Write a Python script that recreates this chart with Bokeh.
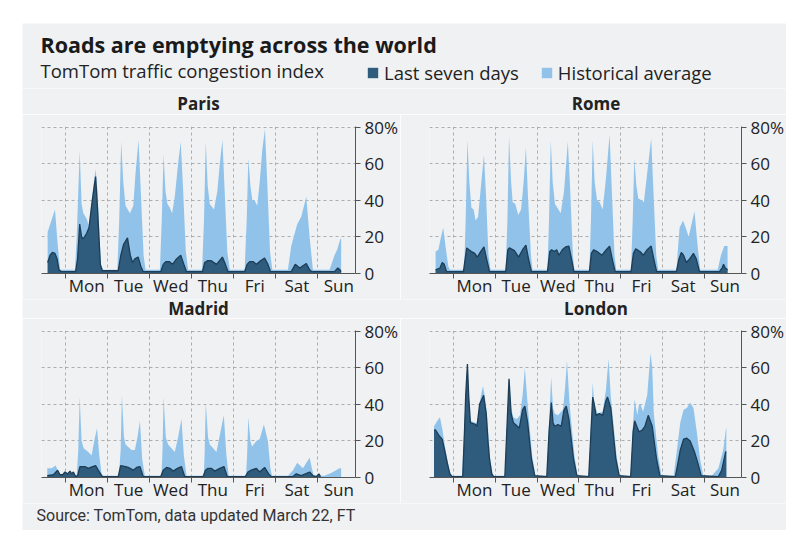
from bokeh.plotting import figure
from bokeh.layouts import column, row
from bokeh.models import FixedTicker, Range1d, Label, Legend, LegendItem
from bokeh.embed import file_html
from bokeh.resources import INLINE

BG = "#eff1f3"
DARK = "#2f5b7c"
DARK_LINE = "#1d3d56"
LIGHT = "#91c3ea"
GRID = "#adadad"
AXIS = "#555555"
TXT = "#222222"
FONT = "Open Sans"

X_START, X_END = -13.8, 165.5
Y_TOP = 80.4

# ---- axis definitions (hours from Monday 00:00) ----
day_bounds = [0, 24, 48, 72, 96, 120, 144]
day_centers = [12, 36, 60, 84, 108, 132, 156]
day_labels = ["Mon", "Tue", "Wed", "Thu", "Fri", "Sat", "Sun"]
y_ticks = [0, 20, 40, 60, 80]
y_labels = ["0", "20", "40", "60", "80%"]
grid_y = [20, 40, 60, 80]

# ---- Paris ----
paris_hist_h = [-10.3, -6.1, -4.75, -3.2, 5.3, 6.3, 8.0, 9.1, 10.1, 12.0, 13.3, 15.8, 17.1, 18.2, 20.1, 21.5,
                29.5, 30.6, 31.7, 32.9, 34.2, 36.7, 38.6, 39.9, 41.6, 42.9, 44.5, 45.6,
                53.8, 54.9, 55.9, 57.0, 58.1, 59.5, 60.8, 62.3, 64.2, 65.7, 67.1, 68.6, 69.9,
                77.9, 79.0, 80.0, 81.1, 82.3, 84.7, 86.6, 88.0, 89.5, 90.8, 92.3, 93.7,
                102.2, 103.4, 104.3, 105.5, 106.6, 107.9, 109.4, 110.8, 112.3, 113.8, 115.1, 116.7, 118.0,
                126.9, 128.8, 132.2, 134.5, 137.4, 139.3, 141.2,
                150.7, 153.5, 155.0, 156.9, 157.3]
paris_hist_v = [22.7, 35, 18, 2, 2, 20, 67, 38, 33, 30, 26, 48, 57, 45, 5, 2,
                2, 30, 72, 50, 37, 33, 37, 55, 73, 45, 10, 2,
                2, 30, 65, 45, 38, 36, 33, 42, 60, 72, 45, 12, 2,
                2, 30, 72, 48, 38, 35, 45, 60, 73, 45, 12, 2,
                2, 30, 63, 48, 40, 40, 37, 50, 68, 79, 50, 12, 2,
                2, 15, 27, 31, 42, 20, 2,
                2, 10, 13, 19, 19]
paris_last_h = [-10.3, -8.9, -7.6, -6.1, -4.9, -3.8, -2.3, 5.7, 6.8, 8.0, 9.1, 10.1, 12.0, 13.3, 15.2, 17.1, 18.2, 19.8, 20.9,
                30.0, 31.5, 33.1, 35.3, 36.9, 38.2, 39.5, 41.4, 42.9, 44.3,
                54.3, 55.7, 57.2, 59.1, 61.0, 63.3, 65.7, 67.5, 69.0,
                78.1, 79.4, 80.9, 83.2, 86.1, 89.5, 91.2, 92.7,
                102.2, 103.6, 105.1, 107.0, 108.9, 111.3, 113.6, 115.5, 117.0,
                128.8, 131.1, 133.6, 137.4, 139.3, 140.6,
                153.5, 155.4, 156.6, 157.3]
paris_last_v = [6, 10, 11.5, 11, 8, 2, 1, 1, 8, 27, 20, 19, 22, 25, 40, 53, 35, 5, 1.5,
                1.5, 10, 16, 19.5, 10, 6, 8, 9, 4, 1,
                1, 5, 6.5, 6.5, 5, 8, 10, 5, 1,
                1, 6, 7, 7, 5, 9, 5, 1,
                1, 5, 6.5, 6.5, 5, 7, 8.5, 5, 1,
                1, 5, 3, 5.5, 2, 1,
                1, 3, 2, 1]

# ---- Rome ----
rome_hist_h = [-10.3, -8.7, -7.2, -5.9, -4.6, -3.0, -2.1, 6.1, 7.0, 8.0, 9.1, 10.3, 11.6, 12.7, 14.1, 16.0, 17.5, 18.8, 20.1, 21.3,
               30.0, 31.0, 31.9, 33.1, 34.0, 35.5, 37.2, 38.8, 40.3, 41.6, 42.9, 44.5, 45.4,
               54.0, 54.9, 55.9, 57.0, 58.3, 59.7, 61.6, 63.5, 65.7, 67.1, 68.6, 69.5,
               78.1, 79.0, 80.0, 81.1, 82.5, 84.0, 85.7, 87.6, 89.7, 91.0, 92.5, 93.5,
               102.0, 103.0, 103.9, 105.1, 106.2, 108.1, 109.4, 111.3, 113.6, 114.9, 116.5, 117.6,
               128.1, 129.9, 131.9, 133.8, 135.1, 138.5, 139.8, 141.7,
               151.8, 153.7, 155.6, 157.5]
rome_hist_v = [12, 13, 20, 25, 15, 4, 2, 2, 30, 73, 50, 36, 35, 29, 31, 50, 65, 40, 10, 2,
               2, 30, 75, 50, 39, 38, 32, 35, 50, 69, 40, 10, 2,
               2, 30, 73, 50, 38, 36, 33, 45, 72, 45, 10, 2,
               2, 30, 73, 50, 40, 39, 35, 52, 76, 45, 10, 2,
               2, 30, 63, 48, 41, 40, 39, 55, 74, 45, 10, 2,
               2, 25, 29, 24, 20, 34, 20, 2,
               2, 10, 15, 15]
rome_last_h = [-10.3, -7.8, -6.5, -5.3, -4.0, 5.7, 6.7, 7.6, 8.9, 10.3, 12.2, 13.7, 15.6, 17.5, 19.0, 20.7,
               30.0, 31.2, 32.1, 35.0, 37.4, 39.7, 41.6, 43.1, 44.8,
               54.0, 55.3, 56.4, 57.8, 59.3, 60.6, 62.5, 64.4, 66.3, 67.8, 69.2,
               78.1, 79.2, 80.6, 82.5, 85.3, 87.8, 89.7, 91.2, 92.9,
               102.0, 103.4, 104.7, 107.2, 109.1, 111.3, 113.6, 115.1, 116.7,
               128.1, 129.6, 130.9, 132.2, 133.8, 135.7, 137.9, 139.5, 141.4,
               152.8, 154.3, 155.2, 156.2, 157.5]
rome_last_v = [2, 3, 6, 5, 1, 1, 8, 14, 13, 12, 11, 9, 12, 14.5, 8, 1,
               1, 13, 14, 12.5, 9, 13, 15.5, 8, 1,
               1, 12, 13, 12, 13, 10, 13, 14.5, 15, 8, 1,
               1, 11, 13, 12, 10, 13, 15, 8, 1,
               1, 11, 13.5, 12, 10, 13, 15, 8, 1,
               1, 8, 11.5, 10, 6, 8, 11, 8, 1,
               1, 3, 5, 3, 2]

# ---- Madrid ----
madrid_hist_h = [-10.5, -8.0, -5.7, -4.2, -3.2, 6.3, 7.2, 8.0, 9.1, 10.3, 12.9, 14.8, 16.3, 17.9, 19.2, 20.5, 21.5,
                 30.4, 31.4, 32.1, 33.3, 34.2, 37.6, 39.5, 41.0, 42.4, 43.7, 45.2,
                 54.7, 55.3, 55.9, 57.2, 58.5, 60.4, 62.3, 64.2, 66.1, 67.5, 69.0,
                 78.9, 79.4, 80.0, 81.3, 82.3, 84.2, 86.1, 88.4, 90.3, 91.8, 93.1,
                 103.0, 103.6, 104.3, 105.5, 106.4, 108.9, 110.8, 113.2, 115.5, 116.9, 117.8,
                 126.9, 129.8, 132.2, 135.5, 139.3, 140.6, 141.7,
                 147.8, 151.6, 156.4, 157.3]
madrid_hist_v = [5, 5, 6.5, 3, 1, 1, 15, 44, 20, 16, 14, 12, 20, 27, 12, 2, 1,
                 1, 15, 45, 22, 18, 15, 15, 22, 31, 10, 1,
                 1, 15, 44, 22, 18, 16, 14, 22, 32, 12, 1,
                 1, 15, 41, 22, 18, 16, 14, 25, 34, 12, 1,
                 1, 12, 33, 20, 17, 20, 21, 29, 20, 5, 1,
                 1, 4, 8, 5, 11, 5, 1,
                 1, 2.5, 5, 5]
madrid_last_h = [-10.5, -7.0, -4.6, -3.2, -1.7, -0.4, 1.1, 2.5, 3.4, 4.4, 5.7, 6.8, 8.2, 11.0, 12.9, 15.4, 17.1, 18.6, 20.9,
                 30.0, 31.4, 34.2, 35.7, 38.6, 40.5, 42.4, 44.3,
                 54.3, 55.7, 57.6, 59.5, 61.4, 63.8, 66.1, 68.0,
                 78.5, 79.8, 81.3, 83.2, 85.1, 88.0, 90.4, 92.3,
                 102.6, 104.1, 106.0, 108.9, 110.8, 113.6, 115.9, 117.4,
                 129.8, 131.7, 134.5, 139.3, 141.2, 143.1, 144.6, 145.5]
madrid_last_v = [1, 1.5, 4, 1.5, 1.5, 3, 2, 3.5, 2, 3, 0.5, 1, 6, 6, 5, 6, 6.5, 4, 0.5,
                 0.5, 6.5, 6, 5.5, 4, 5.5, 6, 0.5,
                 0.5, 4, 5.5, 5, 3.5, 5, 6, 0.5,
                 0.5, 4, 5, 5, 3.5, 5, 6, 0.5,
                 0.5, 3, 4, 5, 3, 5.5, 2, 0.5,
                 0.5, 2, 1, 3, 1, 0.5, 2, 0.5]

# ---- London ----
london_hist_h = [-11.2, -9.3, -7.8, -6.5, -5.1, -3.6, -2.1, -0.8, 4.9, 6.1, 7.0, 8.0, 8.7, 9.7, 12.5, 13.9, 15.0, 16.9, 17.9, 19.2, 21.1, 22.6,
                 29.5, 30.6, 31.9, 33.1, 34.4, 36.3, 38.2, 39.7, 41.0, 42.6, 45.2, 47.1,
                 53.6, 54.9, 56.1, 57.2, 58.1, 60.0, 62.9, 64.2, 65.2, 66.7, 69.5, 71.3,
                 77.7, 79.0, 80.0, 80.9, 82.8, 85.7, 87.6, 89.1, 90.4, 93.7, 95.6,
                 101.8, 103.2, 104.1, 105.6, 106.6, 107.5, 108.9, 110.0, 111.3, 113.2, 114.2, 115.1, 117.6, 119.5,
                 126.5, 128.4, 130.3, 132.2, 134.1, 136.0, 137.9, 139.8, 141.7, 143.6,
                 148.4, 152.2, 155.0, 156.6, 156.8]
london_hist_v = [28, 31, 33, 27, 18, 10, 3, 1, 1, 25, 45, 62, 45, 31, 30, 30, 41, 50, 45, 35, 10, 1,
                 1, 25, 54, 38, 33, 32, 34, 45, 60, 40, 12, 1,
                 1, 30, 55, 38, 35, 34, 37, 50, 64, 40, 12, 1,
                 1, 30, 52, 40, 35, 36, 48, 65, 44, 12, 1,
                 1, 30, 43, 34, 40, 40, 36, 40, 45, 68, 60, 35, 12, 1,
                 1, 15, 30, 37, 38, 41, 38, 25, 10, 1,
                 1, 5, 15, 27, 27]
london_last_h = [-11.2, -10.3, -8.4, -6.5, -5.1, -3.6, -2.1, -0.8, 5.3, 6.3, 7.0, 8.0, 8.7, 9.7, 12.5, 13.5, 15.0, 17.3, 18.8, 19.8, 20.7, 22.0, 23.0,
                 29.5, 30.6, 31.9, 33.1, 34.4, 36.7, 37.8, 39.7, 41.0, 42.6, 44.8, 46.7,
                 53.6, 54.9, 56.2, 57.2, 58.1, 60.0, 61.9, 63.5, 64.8, 66.3, 69.0, 70.9,
                 77.7, 79.0, 80.0, 80.9, 81.9, 83.8, 85.7, 87.6, 88.5, 90.4, 93.3, 95.2,
                 101.8, 103.2, 104.1, 105.3, 106.6, 108.5, 110.0, 111.9, 114.2, 116.7, 118.6,
                 127.5, 129.0, 130.3, 132.2, 134.1, 136.0, 138.5, 140.4, 142.3,
                 152.2, 154.1, 156.4, 156.8]
london_last_v = [26, 26, 23, 21, 15, 8, 2, 0.5, 0.5, 25, 45, 62, 45, 30, 29, 28, 40, 45, 35, 20, 10, 2, 0.5,
                 0.5, 25, 54, 35, 30, 28, 27, 37, 39, 30, 10, 1,
                 0.5, 25, 41, 30, 28, 29, 28, 37, 39, 32, 10, 1,
                 0.5, 25, 44, 40, 34, 35, 34, 42, 44, 38, 10, 1,
                 0.5, 25, 31, 28, 25, 26, 28, 34, 28, 10, 1,
                 0.5, 8, 15, 21, 21.5, 20, 14, 8, 1,
                 0.5, 4, 14, 14]


def panel(hist_h, hist_v, last_h, last_v, width, left, right, height, top, bottom):
    p = figure(width=width, height=height, title=None,
               x_range=Range1d(X_START, X_END), y_range=Range1d(0, Y_TOP),
               y_axis_location="right", output_backend="svg", toolbar_location=None,
               min_border_left=left, min_border_right=right,
               min_border_top=top, min_border_bottom=bottom,
               background_fill_color=BG, border_fill_color=BG, outline_line_color=None)

    p.varea(x=hist_h, y1=0, y2=hist_v, fill_color=LIGHT, fill_alpha=1)
    p.varea(x=last_h, y1=0, y2=last_v, fill_color=DARK, fill_alpha=1)
    p.line(x=last_h, y=last_v, line_color=DARK_LINE, line_width=1.3)

    xa = p.xaxis[0]
    xa.ticker = FixedTicker(ticks=day_centers, minor_ticks=day_bounds)
    xa.major_label_overrides = dict(zip(day_centers, day_labels))
    xa.major_tick_line_color = None
    xa.major_tick_out = 0
    xa.major_tick_in = 0
    xa.minor_tick_line_color = AXIS
    xa.minor_tick_out = 5
    xa.minor_tick_in = 0
    xa.axis_line_color = AXIS
    xa.major_label_standoff = -5
    xa.major_label_text_font = FONT
    xa.major_label_text_font_size = "17px"
    xa.major_label_text_color = TXT

    ya = p.yaxis[0]
    ya.ticker = FixedTicker(ticks=y_ticks)
    ya.major_label_overrides = dict(zip(y_ticks, y_labels))
    ya.major_tick_out = 5
    ya.major_tick_in = 0
    ya.major_tick_line_color = AXIS
    ya.minor_tick_line_color = None
    ya.axis_line_color = AXIS
    ya.major_label_standoff = 4
    ya.major_label_text_font = FONT
    ya.major_label_text_font_size = "17px"
    ya.major_label_text_color = TXT

    p.xgrid.ticker = FixedTicker(ticks=day_bounds)
    p.ygrid.ticker = FixedTicker(ticks=grid_y)
    for g in (p.xgrid[0], p.ygrid[0]):
        g.grid_line_color = GRID
        g.grid_line_dash = "3 3"
        g.grid_line_width = 1
    return p


def strip(height):
    s = figure(width=764, height=height, x_range=Range1d(0, 764), y_range=Range1d(0, height),
               x_axis_type=None, y_axis_type=None, output_backend="svg", toolbar_location=None,
               min_border=0, background_fill_color=BG, border_fill_color=BG, outline_line_color=None)
    s.xgrid.visible = False
    s.ygrid.visible = False
    return s


def heading(s, x, y, text):
    s.add_layout(Label(x=x, y=y, text=text, text_align="center", text_baseline="alphabetic",
                       text_font=FONT, text_font_size="17px", text_font_style="bold", text_color=TXT))


paris = panel(paris_hist_h, paris_hist_v, paris_last_h, paris_last_v, 378, 19, 44, 185, 12, 26)
rome = panel(rome_hist_h, rome_hist_v, rome_last_h, rome_last_v, 386, 29, 43, 185, 12, 26)
madrid = panel(madrid_hist_h, madrid_hist_v, madrid_last_h, madrid_last_v, 378, 19, 44, 185, 12, 26)
london = panel(london_hist_h, london_hist_v, london_last_h, london_last_v, 386, 29, 43, 185, 12, 26)

# ---- panel headings ----
top_titles = strip(26)
heading(top_titles, 176, 11, "Paris")
heading(top_titles, 573.5, 11, "Rome")
bottom_titles = strip(19)
heading(bottom_titles, 176, 10.5, "Madrid")
heading(bottom_titles, 573.5, 10.5, "London")

# ---- header ----
header = strip(65)
header.add_layout(Label(x=18, y=43.7, text="Roads are emptying across the world", text_font=FONT,
                        text_font_style="bold", text_font_size="21.5px", text_color="#1a1a1a",
                        text_baseline="alphabetic"))
header.add_layout(Label(x=18, y=17.9, text="TomTom traffic congestion index", text_font=FONT,
                        text_font_size="18.5px", text_color=TXT, text_baseline="alphabetic"))
r_last = header.varea(x=[-50, -49], y1=[0, 0], y2=[0, 0], fill_color=DARK)
r_hist = header.varea(x=[-50, -49], y1=[0, 0], y2=[0, 0], fill_color=LIGHT)
legend = Legend(items=[LegendItem(label="Last seven days", renderers=[r_last]),
                       LegendItem(label="Historical average", renderers=[r_hist])],
                orientation="horizontal", location=(344, 3), glyph_width=13, glyph_height=13,
                label_standoff=5, spacing=21, padding=0, margin=0, border_line_color=None,
                background_fill_alpha=0, label_text_font=FONT, label_text_font_size="18.5px",
                label_text_color=TXT)
header.add_layout(legend)

# ---- footer ----
footer = strip(27)
footer.add_layout(Label(x=14, y=15, text="Source: TomTom, data updated March 22, FT", text_font="Roboto",
                        text_font_size="16px", text_color="#333333", text_baseline="alphabetic"))

layout = column(header, top_titles, row(paris, rome), bottom_titles, row(madrid, london), footer,
                margin=(23, 0, 0, 22))

open("out.html", "w").write(file_html(layout, INLINE))
